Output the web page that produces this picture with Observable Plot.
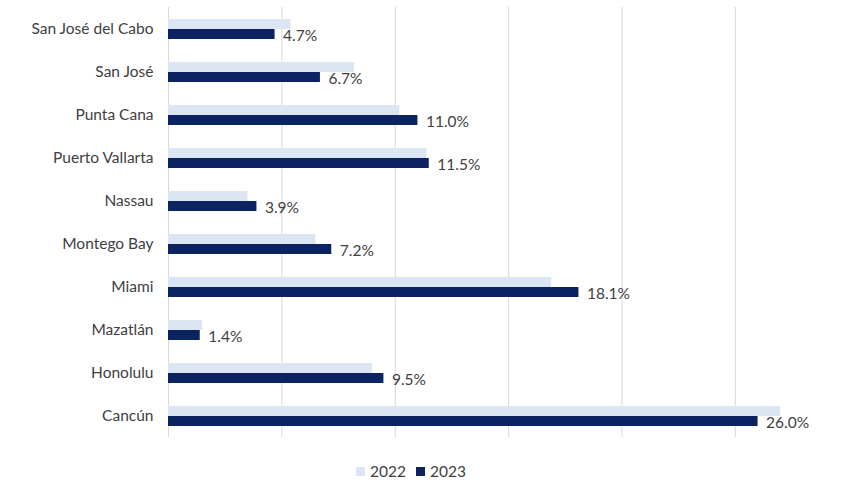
<!DOCTYPE html>
<html>
<head>
<meta charset="utf-8">
<script src="https://cdn.jsdelivr.net/npm/d3@7"></script>
<script src="https://cdn.jsdelivr.net/npm/@observablehq/plot@0.6"></script>
<style>
  html, body { margin: 0; padding: 0; background: #fff; }
  #chart { width: 846px; font-family: Lato, "Open Sans", sans-serif; color: #404040; }
  .legend { display: flex; justify-content: center; align-items: center; gap: 10px; font-size: 15.5px; padding-right: 24px; margin-top: 17px; }
  .legend span.item { display: inline-flex; align-items: center; gap: 5px; }
  .legend span.sw { width: 9px; height: 9px; display: inline-block; }
</style>
</head>
<body>
<div id="chart"></div>
<script>
const cities = ["San José del Cabo", "San José", "Punta Cana", "Puerto Vallarta", "Nassau", "Montego Bay", "Miami", "Mazatlán", "Honolulu", "Cancún"];
const years = ["2022", "2023"];
const values2022 = [5.4, 8.2, 10.2, 11.4, 3.5, 6.5, 16.9, 1.5, 9.0, 27.0];
const values2023 = [4.7, 6.7, 11.0, 11.5, 3.9, 7.2, 18.1, 1.4, 9.5, 26.0];
const xTicks = [0, 5, 10, 15, 20, 25];
const colors = ["#dce6f2", "#0b2461"];

const data = [];
cities.forEach((c, i) => {
  data.push({city: c, year: "2022", value: values2022[i]});
  data.push({city: c, year: "2023", value: values2023[i]});
});

const chart = Plot.plot({
  width: 846,
  height: 445,
  marginLeft: 168,
  marginRight: 0,
  marginTop: 6,
  marginBottom: 8,
  style: {fontFamily: "Lato, 'Open Sans', sans-serif", fontSize: "15.5px", color: "#404040", background: "#fff"},
  facet: {data, y: "city"},
  fy: {domain: cities, padding: 0, axis: "left", label: null, tickSize: 0, tickPadding: 15},
  y: {domain: years, paddingInner: 0, paddingOuter: 0.96, axis: null},
  x: {domain: [0, 29.9], axis: null},
  color: {domain: years, range: colors},
  marks: [
    Plot.ruleX(xTicks, {stroke: "#d9d9d9", strokeWidth: 1}),
    Plot.barX(data, {y: "year", x: "value", fill: "year"}),
    Plot.text(data, {filter: d => d.year === "2023", y: "year", x: "value", text: d => d.value.toFixed(1) + "%", textAnchor: "start", dx: 8, dy: 2, fill: "#404040"})
  ]
});
document.getElementById("chart").appendChild(chart);

const legend = document.createElement("div");
legend.className = "legend";
years.forEach((y, i) => {
  const item = document.createElement("span");
  item.className = "item";
  const sw = document.createElement("span");
  sw.className = "sw";
  sw.style.background = colors[i];
  item.appendChild(sw);
  item.appendChild(document.createTextNode(y));
  legend.appendChild(item);
});
document.getElementById("chart").appendChild(legend);
</script>
</body>
</html>
